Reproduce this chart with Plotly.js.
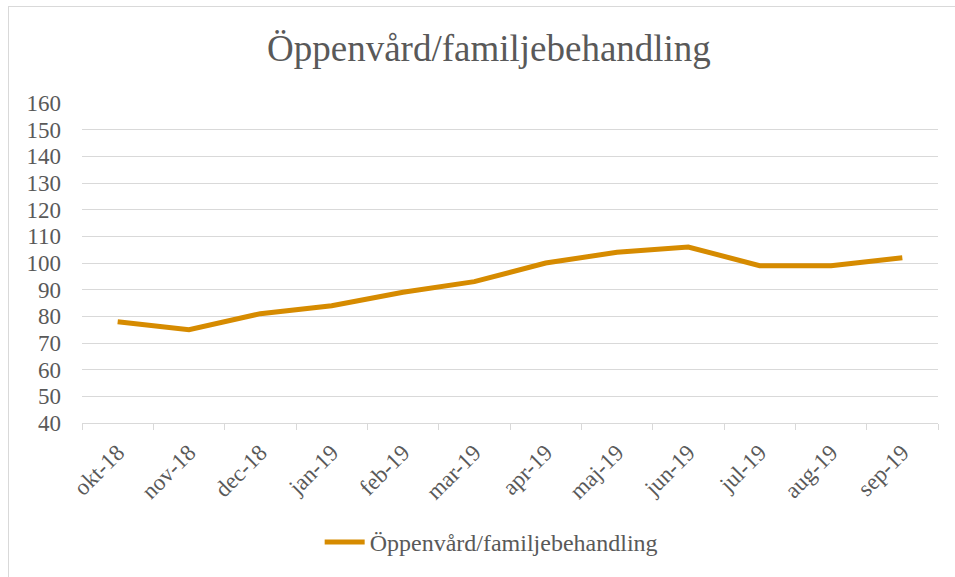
<!DOCTYPE html>
<html>
<head>
<meta charset="utf-8">
<script src="https://cdn.plot.ly/plotly-3.0.1.min.js"></script>
<style>
html,body{margin:0;padding:0;background:#fff;}
#chart{width:955px;height:577px;position:relative;}
#frame{position:absolute;left:8px;top:6px;width:960px;height:600px;border-left:1px solid #d9d9d9;border-top:1px solid #d9d9d9;pointer-events:none;}
</style>
</head>
<body>
<div id="chart"></div>
<div id="frame"></div>
<script>
const months = ["okt-18","nov-18","dec-18","jan-19","feb-19","mar-19","apr-19","maj-19","jun-19","jul-19","aug-19","sep-19"];
const values = [78,75,81,84,89,93,100,104,106,99,99,102];
const seriesName = "Öppenvård/familjebehandling";
const yTicks = [40,50,60,70,80,90,100,110,120,130,140,150,160];

const font = "Liberation Serif, Times New Roman, serif";
Plotly.newPlot("chart", [{
  x: months, y: values, type: "scatter", mode: "lines", name: seriesName,
  line: {color: "#D68B00", width: 5}
}], {
  width: 955, height: 577,
  margin: {l: 82, r: 17, t: 103, b: 152},
  paper_bgcolor: "#fff", plot_bgcolor: "#fff",
  title: {text: seriesName, font: {family: font, size: 37, color: "#595959"}, x: 0.512, xanchor: "center", y: 0.917, yanchor: "middle"},
  xaxis: {
    type: "category", range: [-0.5, 11.5], tickangle: -45, tickson: "boundaries", ticks: "outside", ticklen: 6, tickcolor: "#d9d9d9",
    showline: true, linecolor: "#d9d9d9", linewidth: 1, showgrid: false, ticklabelstandoff: 6,
    tickfont: {family: font, size: 23, color: "#595959"}, fixedrange: true
  },
  yaxis: {
    range: [40, 160], tickvals: yTicks, ticks: "", showline: false, zeroline: false,
    gridcolor: "#d9d9d9", gridwidth: 1, tickfont: {family: font, size: 23, color: "#595959"}, ticklabelstandoff: 20
  },
  showlegend: true,
  legend: {orientation: "h", x: 0.478, xanchor: "center", y: -0.373, yanchor: "middle", font: {family: font, size: 24, color: "#595959"}, itemwidth: 40}
}, {displayModeBar: false, staticPlot: true});
</script>
</body>
</html>
